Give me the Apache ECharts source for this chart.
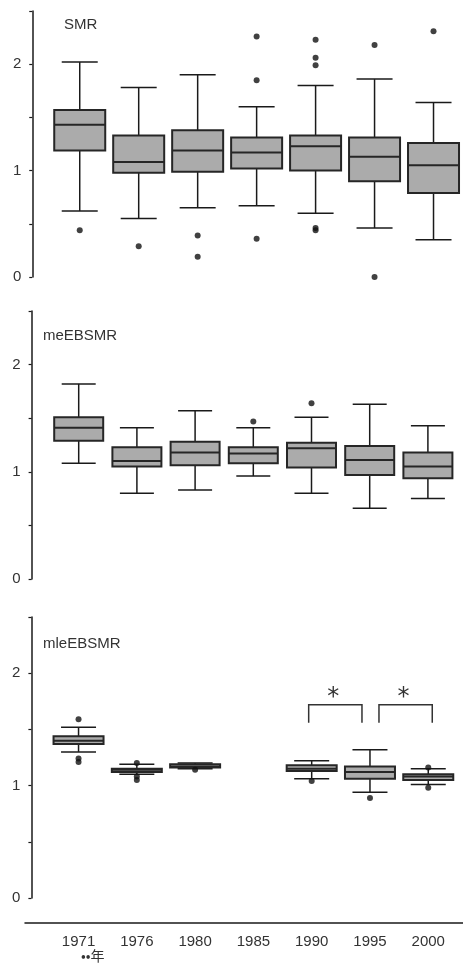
<!DOCTYPE html>
<html>
<head>
<meta charset="utf-8">
<script src="https://cdn.jsdelivr.net/npm/echarts@6/dist/echarts.min.js"></script>
<style>
html,body{margin:0;padding:0;background:#fff;}
#chart{width:463px;height:963px;}
</style>
</head>
<body>
<div id="chart"></div>
<script>
// ---- data ----
const categories = ['1971', '1976', '1980', '1985', '1990', '1995', '2000'];
const yTicks = [0, 1, 2];

// [low whisker, Q1, median, Q3, high whisker] per category (null = no data)
const smrStats = [
  [0.62, 1.19, 1.43, 1.57, 2.02],
  [0.55, 0.98, 1.08, 1.33, 1.78],
  [0.65, 0.99, 1.19, 1.38, 1.90],
  [0.67, 1.02, 1.17, 1.31, 1.60],
  [0.60, 1.00, 1.23, 1.33, 1.80],
  [0.46, 0.90, 1.13, 1.31, 1.86],
  [0.35, 0.79, 1.05, 1.26, 1.64]
];
const smrOutliers = [
  [0, 0.44], [1, 0.29], [2, 0.39], [2, 0.19],
  [3, 2.26], [3, 1.85], [3, 0.36],
  [4, 2.23], [4, 2.06], [4, 1.99], [4, 0.46], [4, 0.44],
  [5, 2.18], [5, 0.00], [6, 2.31]
];

const meStats = [
  [1.08, 1.29, 1.41, 1.51, 1.82],
  [0.80, 1.05, 1.10, 1.23, 1.41],
  [0.83, 1.06, 1.18, 1.28, 1.57],
  [0.96, 1.08, 1.17, 1.23, 1.41],
  [0.80, 1.04, 1.22, 1.27, 1.51],
  [0.66, 0.97, 1.11, 1.24, 1.63],
  [0.75, 0.94, 1.05, 1.18, 1.43]
];
const meOutliers = [[3, 1.47], [4, 1.64]];

const mleStats = [
  [1.30, 1.37, 1.40, 1.44, 1.52],
  [1.10, 1.12, 1.14, 1.15, 1.19],
  [1.15, 1.16, 1.17, 1.19, 1.20],
  null,
  [1.06, 1.13, 1.15, 1.18, 1.22],
  [0.94, 1.06, 1.12, 1.17, 1.32],
  [1.01, 1.05, 1.08, 1.10, 1.15]
];
const mleOutliers = [
  [0, 1.59], [0, 1.24], [0, 1.21],
  [1, 1.20], [1, 1.08], [1, 1.05],
  [2, 1.14],
  [4, 1.04], [5, 0.89], [6, 1.16], [6, 0.98]
];

// significance brackets: [from category, to category, bar value, leg-bottom value, star value]
const brackets = [
  [4, 5, 1.72, 1.56, 1.82],
  [5, 6, 1.72, 1.56, 1.82]
];

const panelTitles = ['SMR', 'meEBSMR', 'mleEBSMR'];

// ---- chart ----
const FONT = 'Liberation Sans, Arial, sans-serif';
const chart = echarts.init(document.getElementById('chart'), null, {renderer: 'canvas'});

function toBoxData(stats) {
  const out = [];
  stats.forEach((s, i) => { if (s) out.push([i].concat(s)); });
  return out;
}

function boxRender(boxW, capW) {
  return function (params, api) {
    const i = api.value(0);
    const vals = [1, 2, 3, 4, 5].map(k => api.coord([i, api.value(k)]));
    const x = vals[0][0];
    const yLow = vals[0][1], yQ1 = vals[1][1], yMed = vals[2][1], yQ3 = vals[3][1], yHigh = vals[4][1];
    const lineStyle = {stroke: '#1a1a1a', lineWidth: 1.5};
    return {
      type: 'group',
      children: [
        {type: 'line', shape: {x1: x, y1: yHigh, x2: x, y2: yQ3}, style: lineStyle},
        {type: 'line', shape: {x1: x, y1: yQ1, x2: x, y2: yLow}, style: lineStyle},
        {type: 'line', shape: {x1: x - capW / 2, y1: yHigh, x2: x + capW / 2, y2: yHigh}, style: lineStyle},
        {type: 'line', shape: {x1: x - capW / 2, y1: yLow, x2: x + capW / 2, y2: yLow}, style: lineStyle},
        {type: 'rect', shape: {x: x - boxW / 2, y: yQ3, width: boxW, height: yQ1 - yQ3},
          style: {fill: '#ababab', stroke: '#262626', lineWidth: 2}},
        {type: 'line', shape: {x1: x - boxW / 2, y1: yMed, x2: x + boxW / 2, y2: yMed},
          style: {stroke: '#262626', lineWidth: 2}}
      ]
    };
  };
}

function bracketRender(params, api) {
  const a = api.value(0), b = api.value(1);
  const pTop1 = api.coord([a, api.value(2)]);
  const pTop2 = api.coord([b, api.value(2)]);
  const yLeg = api.coord([a, api.value(3)])[1];
  const yStar = api.coord([a, api.value(4)])[1];
  const off = params.dataIndex === 0 ? [-3, -8] : [9, 4];
  const x1 = pTop1[0] + off[0], x2 = pTop2[0] + off[1], y = pTop1[1];
  const st = {stroke: '#333', lineWidth: 1.5, fill: null};
  return {
    type: 'group',
    children: [
      {type: 'polyline', shape: {points: [[x1, yLeg], [x1, y], [x2, y], [x2, yLeg]]}, style: st},
      {type: 'text', x: (x1 + x2) / 2 - 2, y: yStar + 4,
        style: {text: '*', fill: '#333', font: '24px DejaVu Sans', align: 'center', verticalAlign: 'middle'}}
    ]
  };
}

const grids = [
  {left: 50.25, width: 416.5, top: 11, height: 266},
  {left: 49.6, width: 407.4, top: 311, height: 268},
  {left: 49.4, width: 408, top: 617, height: 281},
  {left: 25, width: 438, top: 922, height: 1}
];

function yAxisFor(gi) {
  return {
    type: 'value', gridIndex: gi, min: 0, max: 2.5, interval: 0.5, offset: 18,
    axisLine: {show: true, lineStyle: {color: '#1a1a1a', width: 1.5}},
    axisTick: {show: true, length: 3, lineStyle: {color: '#1a1a1a', width: 1.2}},
    splitLine: {show: false},
    axisLabel: {
      margin: 11, color: '#333', fontSize: 15, fontFamily: FONT,
      formatter: v => (yTicks.indexOf(v) >= 0 ? String(v) : '')
    }
  };
}

const option = {
  animation: false,
  backgroundColor: '#fff',
  grid: grids,
  xAxis: [
    {type: 'category', gridIndex: 0, data: categories, show: false},
    {type: 'category', gridIndex: 1, data: categories, show: false},
    {type: 'category', gridIndex: 2, data: categories, offset: 25,
      axisLine: {show: false}, axisTick: {show: false}, splitLine: {show: false},
      axisLabel: {margin: 11, color: '#333', fontSize: 15, fontFamily: FONT}},
    {type: 'value', gridIndex: 3, min: 0, max: 1,
      axisLine: {show: true, lineStyle: {color: '#1a1a1a', width: 1.5}},
      axisTick: {show: false}, axisLabel: {show: false}, splitLine: {show: false}}
  ],
  yAxis: [yAxisFor(0), yAxisFor(1), yAxisFor(2),
    {type: 'value', gridIndex: 3, show: false}],
  graphic: [
    {type: 'text', left: 64, top: 17, style: {text: panelTitles[0], font: '15px ' + FONT, fill: '#333'}},
    {type: 'text', left: 43, top: 328, style: {text: panelTitles[1], font: '15px ' + FONT, fill: '#333'}},
    {type: 'text', left: 43, top: 636, style: {text: panelTitles[2], font: '15px ' + FONT, fill: '#333'}},
    {type: 'text', left: 81, top: 949, style: {text: '••年', font: '14px "Noto Sans CJK JP", sans-serif', fill: '#333'}}
  ],
  series: [
    {type: 'custom', xAxisIndex: 0, yAxisIndex: 0, data: toBoxData(smrStats),
      renderItem: boxRender(51, 36), encode: {x: 0, y: [1, 2, 3, 4, 5]}},
    {type: 'scatter', xAxisIndex: 0, yAxisIndex: 0, data: smrOutliers, symbolSize: 6,
      itemStyle: {color: '#111'}},
    {type: 'custom', xAxisIndex: 1, yAxisIndex: 1, data: toBoxData(meStats),
      renderItem: boxRender(49, 34), encode: {x: 0, y: [1, 2, 3, 4, 5]}},
    {type: 'scatter', xAxisIndex: 1, yAxisIndex: 1, data: meOutliers, symbolSize: 6,
      itemStyle: {color: '#111'}},
    {type: 'custom', xAxisIndex: 2, yAxisIndex: 2, data: toBoxData(mleStats),
      renderItem: boxRender(50, 35), encode: {x: 0, y: [1, 2, 3, 4, 5]}},
    {type: 'scatter', xAxisIndex: 2, yAxisIndex: 2, data: mleOutliers, symbolSize: 6,
      itemStyle: {color: '#111'}},
    {type: 'custom', xAxisIndex: 2, yAxisIndex: 2, data: brackets,
      renderItem: bracketRender, encode: {x: [0, 1], y: [2, 3, 4]}}
  ]
};
chart.setOption(option);
</script>
</body>
</html>
